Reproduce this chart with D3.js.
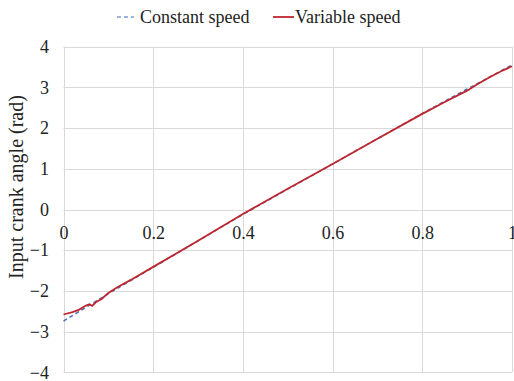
<!DOCTYPE html>
<html>
<head>
<meta charset="utf-8">
<script src="https://cdn.jsdelivr.net/npm/d3@7"></script>
<style>
  html, body { margin: 0; padding: 0; background: #fff; }
  svg { display: block; font-family: "Liberation Serif", "Times New Roman", serif; }
</style>
</head>
<body>
<div id="chart"></div>
<script>
// Constant speed (dashed blue)
const constX = [0, 0.1, 0.2, 0.3, 0.4, 0.5, 0.6, 0.7, 0.8, 0.9, 1.0];
const constY = [-2.74, -2.07, -1.42, -0.77, -0.12, 0.50, 1.12, 1.74, 2.36, 2.96, 3.55];

// Variable speed (solid red)
const varX = [0, 0.02, 0.035, 0.05, 0.058, 0.064, 0.072, 0.085, 0.1, 0.12, 0.15,
  0.2, 0.3, 0.4, 0.5, 0.6, 0.7, 0.8, 0.85, 0.88, 0.9, 0.92, 0.95, 0.98, 1.0];
const varY = [-2.58, -2.52, -2.46, -2.36, -2.33, -2.37, -2.28, -2.20, -2.05, -1.91, -1.73,
  -1.41, -0.77, -0.11, 0.51, 1.12, 1.74, 2.35, 2.64, 2.81, 2.92, 3.06, 3.25, 3.42, 3.52];

const xTicks = [0, 0.2, 0.4, 0.6, 0.8, 1];
const yTicks = [-4, -3, -2, -1, 0, 1, 2, 3, 4];

const width = 514, height = 381;
const margin = { top: 46.7, right: 2, bottom: 8.7, left: 63.5 };

const svg = d3.select("#chart").append("svg")
  .attr("width", width)
  .attr("height", height);

const x = d3.scaleLinear().domain([0, 1]).range([margin.left, width - margin.right]);
const y = d3.scaleLinear().domain([-4, 4]).range([height - margin.bottom, margin.top]);

// gridlines
const grid = svg.append("g").attr("stroke", "#d9d9d9").attr("stroke-width", 1);
grid.selectAll(".gx").data(xTicks).enter().append("line")
  .attr("x1", d => Math.round(x(d)) + 0.5).attr("x2", d => Math.round(x(d)) + 0.5)
  .attr("y1", y(4)).attr("y2", y(-4));
grid.selectAll(".gy").data(yTicks).enter().append("line")
  .attr("x1", x(0)).attr("x2", x(1))
  .attr("y1", d => Math.round(y(d)) + 0.5).attr("y2", d => Math.round(y(d)) + 0.5);

// axes (labels only, Excel style: x labels sit under the zero line)
const xAxis = svg.append("g")
  .attr("transform", `translate(0,${y(0)})`)
  .call(d3.axisBottom(x).tickValues(xTicks).tickSize(0).tickPadding(17)
    .tickFormat(d => d3.format("")(d)));
xAxis.select(".domain").remove();
xAxis.selectAll("text").style("font-size", "18px").style("fill", "#222")
  .style("font-family", "Liberation Serif");

const yAxis = svg.append("g")
  .attr("transform", `translate(${x(0)},0)`)
  .call(d3.axisLeft(y).tickValues(yTicks).tickSize(0).tickPadding(14.5)
    .tickFormat(d => d3.format("")(d)));
yAxis.select(".domain").remove();
yAxis.selectAll("text").style("font-size", "18px").style("fill", "#222")
  .style("font-family", "Liberation Serif");

// axis title
svg.append("text")
  .attr("transform", "translate(23,187) rotate(-90)")
  .attr("text-anchor", "middle")
  .style("font-size", "20px")
  .style("fill", "#222")
  .text("Input crank angle (rad)");

// lines
const constData = constX.map((v, i) => ({ x: v, y: constY[i] }));
const varData = varX.map((v, i) => ({ x: v, y: varY[i] }));

const line = d3.line()
  .x(d => x(d.x))
  .y(d => y(d.y));

svg.append("path")
  .datum(constData)
  .attr("fill", "none")
  .attr("stroke", "#4a6fc0")
  .attr("stroke-width", 1.5)
  .attr("stroke-dasharray", "4,3")
  .attr("d", line);

svg.append("path")
  .datum(varData)
  .attr("fill", "none")
  .attr("stroke", "#c0262d")
  .attr("stroke-width", 1.8)
  .attr("d", line);

// legend
const legend = svg.append("g").style("font-size", "18px").style("fill", "#222");
legend.append("line")
  .attr("x1", 117).attr("x2", 134).attr("y1", 17).attr("y2", 17)
  .attr("stroke", "#7f9bd3").attr("stroke-width", 1.5).attr("stroke-dasharray", "4,3");
legend.append("text").attr("x", 140).attr("y", 23).text("Constant speed");
legend.append("line")
  .attr("x1", 273).attr("x2", 294).attr("y1", 17).attr("y2", 17)
  .attr("stroke", "#c0262d").attr("stroke-width", 1.8);
legend.append("text").attr("x", 295).attr("y", 23).text("Variable speed");
</script>
</body>
</html>
